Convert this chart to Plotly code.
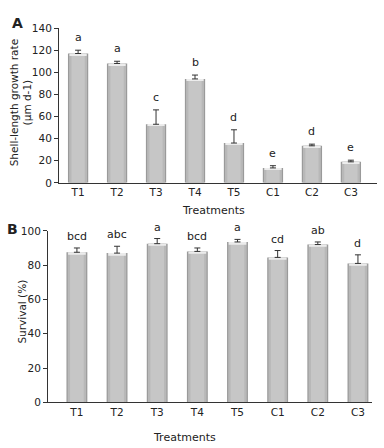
import plotly.graph_objects as go

categories = ["T1", "T2", "T3", "T4", "T5", "C1", "C2", "C3"]
growth = [117, 108, 53, 94, 36, 13.5, 33.5, 19]
growth_err = [3, 2, 13, 3.5, 12, 2, 1.5, 1.5]
growth_letters = ["a", "a", "c", "b", "d", "e", "d", "e"]
survival = [87.5, 87, 92.5, 88, 93.5, 84.5, 92, 81]
survival_err = [2.5, 4, 3, 2, 1.5, 4, 1.5, 5]
survival_letters = ["bcd", "abc", "a", "bcd", "a", "cd", "ab", "d"]

W, H = 384, 448
FONT = "DejaVu Sans"
TXT = "#222222"

def fx(px):
    return px / W

def fy(py):
    return 1 - py / H

fig = go.Figure()

xs = list(range(len(categories)))

def add_bars(vals, errs, xa, ya, cap):
    layers = [(0.52, "#9a9a9a"), (0.46, "#b8b8b8"), (0.34, "#c6c6c6")]
    for w, c in layers:
        fig.add_trace(go.Bar(
            x=xs, y=vals, width=w, marker=dict(color=c, line=dict(width=0)),
            xaxis=xa, yaxis=ya, showlegend=False, hoverinfo="skip",
            offset=-w / 2,
        ))
    # light top cap
    fig.add_trace(go.Bar(
        x=xs, y=[cap] * len(vals), base=[v - cap for v in vals], width=0.44, offset=-0.22,
        marker=dict(color="#ececec", line=dict(width=0)),
        xaxis=xa, yaxis=ya, showlegend=False, hoverinfo="skip",
    ))
    fig.add_trace(go.Scatter(
        x=xs, y=vals, mode="markers", marker=dict(size=0.1, color="rgba(0,0,0,0)"),
        error_y=dict(type="data", array=errs, arrayminus=[0] * len(errs),
                     color="#333333", thickness=1, width=3),
        xaxis=xa, yaxis=ya, showlegend=False, hoverinfo="skip",
    ))

add_bars(growth, growth_err, "x", "y", 1.6)
add_bars(survival, survival_err, "x2", "y2", 1.1)

annotations = []
for i, (v, e, t) in enumerate(zip(growth, growth_err, growth_letters)):
    annotations.append(dict(x=i, y=v + e, xref="x", yref="y", text=t, showarrow=False,
                            yanchor="bottom", yshift=4, font=dict(family=FONT, size=11, color=TXT)))
for i, (v, e, t) in enumerate(zip(survival, survival_err, survival_letters)):
    annotations.append(dict(x=i, y=v + e, xref="x2", yref="y2", text=t, showarrow=False,
                            yanchor="bottom", yshift=3, font=dict(family=FONT, size=11, color=TXT)))

def paper_text(text, px, py, size=10.5, bold=False, angle=0):
    return dict(x=fx(px), y=fy(py), xref="paper", yref="paper", text=("<b>%s</b>" % text) if bold else text,
                showarrow=False, xanchor="center", yanchor="middle", textangle=angle,
                font=dict(family=FONT, size=size, color=TXT))

annotations += [
    paper_text("A", 17, 17, size=14, bold=True),
    paper_text("B", 12, 229, size=14, bold=True),
    paper_text("Treatments", 213, 210, size=11),
    paper_text("Treatments", 184, 443, size=11),
    paper_text("Shell-length growth rate<br>(µm d-1)", 21, 100, size=10.5, angle=-90),
    paper_text("Survival (%)", 22, 314, size=10.5, angle=-90),
]

axis_common = dict(showgrid=False, zeroline=False, showline=True, linecolor="#333333", linewidth=1,
                   tickfont=dict(family=FONT, size=10.5, color=TXT))

fig.update_layout(
    width=W, height=H, margin=dict(l=0, r=0, t=0, b=0),
    paper_bgcolor="white", plot_bgcolor="white", barmode="overlay",
    annotations=annotations,
    xaxis=dict(domain=[fx(59), fx(377)], range=[-0.49, 7.67], anchor="y",
               tickvals=xs, ticktext=categories, ticks="", **axis_common),
    yaxis=dict(domain=[fy(181.7), fy(22.7)], range=[0, 140], anchor="x",
               tickvals=[0, 20, 40, 60, 80, 100, 120, 140], ticks="outside", ticklen=4,
               tickcolor="#333333", **axis_common),
    xaxis2=dict(domain=[fx(48), fx(372)], range=[-0.72, 7.35], anchor="y2",
                tickvals=xs, ticktext=categories, ticks="", **axis_common),
    yaxis2=dict(domain=[fy(407.3), fy(231)], range=[0, 100], anchor="x2",
                tickvals=[0, 20, 40, 60, 80, 100], ticks="outside", ticklen=4,
                tickcolor="#333333", **axis_common),
)

fig.write_html("out.html", config={"displayModeBar": False},
               post_script="document.body.style.margin='0';document.body.style.overflow='hidden';")
